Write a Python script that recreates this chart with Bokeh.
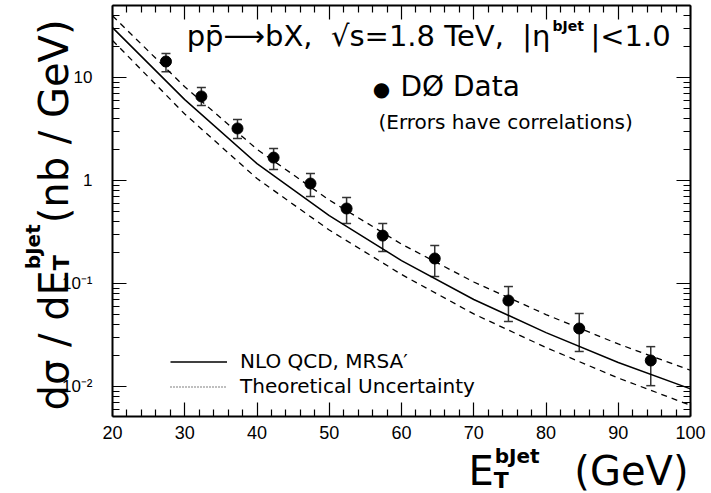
import math
from bokeh.plotting import figure
from bokeh.models import (Range1d, LogAxis, LinearAxis, FixedTicker, CustomJSTickFormatter,
                          CustomLabelingPolicy, Label, Legend, LegendItem, ColumnDataSource,
                          Whisker, TeeHead)
from bokeh.embed import file_html
from bokeh.resources import INLINE

# ---------------- data ----------------
et_data = [27.4, 32.3, 37.3, 42.3, 47.4, 52.4, 57.4, 64.6, 74.8, 84.6, 94.5]
xsec_data = [14.3, 6.55, 3.20, 1.67, 0.935, 0.535, 0.292, 0.175, 0.0684, 0.0366, 0.0179]
xsec_hi = [17.1, 8.0, 3.91, 2.05, 1.17, 0.684, 0.383, 0.234, 0.0935, 0.0512, 0.0244]
xsec_lo = [11.4, 5.35, 2.56, 1.28, 0.70, 0.383, 0.205, 0.117, 0.0428, 0.0219, 0.0102]

et_theory = [20, 30, 40, 50, 60, 70, 80, 90, 100]
nlo_central = [30.5, 6.1, 1.46, 0.457, 0.167, 0.070, 0.0334, 0.0171, 0.0095]
nlo_upper = [39.7, 8.13, 2.01, 0.646, 0.2415, 0.1035, 0.050, 0.0259, 0.0144]
nlo_lower = [22.9, 4.42, 1.045, 0.331, 0.1225, 0.0507, 0.0239, 0.0121, 0.00658]

x_lim = [20, 100]
y_lim = [0.00512, 50.0]
x_tick_values = [20, 30, 40, 50, 60, 70, 80, 90, 100]
y_tick_values = [0.01, 0.1, 1, 10]
y_tick_labels = ["10\u207b\u00b2", "10\u207b\u00b9", "1", "10"]

FONT = "DejaVu Sans"
TICKFONT = "Liberation Sans"
WIDTH, HEIGHT = 711, 493
# page pixels of the axis box
BOX_L, BOX_R, BOX_T, BOX_B = 112, 690, 5, 416

# approximate DejaVu Sans advance widths (em) for placing sub/superscripts
W = {' ': .318, '(': .390, ')': .390, '/': .337, 'd': .635, '\u03c3': .634, 'E': .632,
     'T': .611, 'b': .635, 'J': .295, 'e': .615, 't': .392, 'n': .634, 'G': .775,
     'V': .684}
WB = {'b': .716, 'J': .372, 'e': .678, 't': .478, 'T': .682}


def tw(s, size, bold=False):
    tab = WB if bold else W
    return sum(tab.get(c, W.get(c, 0.6)) for c in s) * size


# the frame fills the whole canvas; the axes are pinned at the box edges
xs = (x_lim[1] - x_lim[0]) / (BOX_R - BOX_L)
x_full = (x_lim[0] - BOX_L * xs, x_lim[1] + (WIDTH - BOX_R) * xs)
ly0, ly1 = math.log10(y_lim[0]), math.log10(y_lim[1])
ys_ = (ly1 - ly0) / (BOX_B - BOX_T)
y_full = (10 ** (ly0 - (HEIGHT - BOX_B) * ys_), 10 ** (ly1 + BOX_T * ys_))

p = figure(width=WIDTH, height=HEIGHT, x_range=Range1d(*x_full), y_range=Range1d(*y_full),
           y_axis_type="log", output_backend="svg", toolbar_location=None,
           min_border=0, min_border_left=0, min_border_right=0, min_border_top=0,
           min_border_bottom=0)
p.xgrid.visible = False
p.ygrid.visible = False
p.outline_line_color = None
p.background_fill_color = "white"
p.border_fill_color = "white"

x_ticker = FixedTicker(ticks=x_tick_values,
                       minor_ticks=[v for v in range(x_lim[0], x_lim[1] + 1, 2) if v % 10])
y_minor = [k * 10.0 ** e for e in range(-3, 2) for k in range(2, 10)]
y_ticker = FixedTicker(ticks=y_tick_values,
                       minor_ticks=[v for v in y_minor if y_lim[0] <= v <= y_lim[1]])
y_fmt = CustomJSTickFormatter(args=dict(vals=y_tick_values, labs=y_tick_labels), code="""
for (let i = 0; i < vals.length; i++) {
  if (Math.abs(tick - vals[i]) <= 1e-6 * vals[i]) { return labs[i]; }
}
return "";
""")


def style(ax, labels=True):
    ax.axis_line_color = "black"
    ax.axis_line_width = 2
    ax.major_tick_in = 14
    ax.major_tick_out = 0
    ax.minor_tick_in = 7
    ax.minor_tick_out = 0
    ax.major_tick_line_color = "black"
    ax.major_tick_line_width = 1.2
    ax.minor_tick_line_color = "black"
    ax.minor_tick_line_width = 1.2
    ax.major_label_text_font = TICKFONT
    ax.major_label_text_color = "black"
    if not labels:
        ax.major_label_text_font_size = "1px"
        ax.major_label_standoff = 0
        ax.major_label_policy = CustomLabelingPolicy(
            code="for (const i of indices) { indices.unset(i) }\nreturn indices")


xa = p.xaxis[0]
xa.ticker = x_ticker
xa.fixed_location = y_lim[0]
xa.bounds = tuple(x_lim)
style(xa)
xa.major_label_text_font_size = "18px"
xa.major_label_standoff = 9

ya = p.yaxis[0]
ya.ticker = y_ticker
ya.formatter = y_fmt
ya.fixed_location = x_lim[0]
ya.bounds = tuple(y_lim)
style(ya)
ya.major_label_text_font_size = "17px"
ya.major_label_standoff = 20

top_ax = LinearAxis(ticker=x_ticker, fixed_location=y_lim[1], bounds=tuple(x_lim))
style(top_ax, labels=False)
p.add_layout(top_ax, "above")
right_ax = LogAxis(ticker=y_ticker, fixed_location=x_lim[1], bounds=tuple(y_lim))
style(right_ax, labels=False)
p.add_layout(right_ax, "right")

# ---------------- theory curves ----------------
th = ColumnDataSource(dict(x=et_theory, c=nlo_central, u=nlo_upper, l=nlo_lower,
                           none=[float("nan")] * len(et_theory)))
r_c = p.line("x", "c", source=th, line_color="black", line_width=1.5)
p.line("x", "u", source=th, line_color="black", line_width=1.3, line_dash="6 5")
p.line("x", "l", source=th, line_color="black", line_width=1.3, line_dash="6 5")
r_dot = p.line("x", "none", source=th, line_color="black", line_width=1.2, line_dash="1 2")

# ---------------- data points ----------------
ds = ColumnDataSource(dict(x=et_data, y=xsec_data, hi=xsec_hi, lo=xsec_lo))
wh = Whisker(source=ds, base="x", upper="hi", lower="lo", line_color="#333333", line_width=1.5,
             upper_head=TeeHead(size=9, line_color="#333333", line_width=1.5),
             lower_head=TeeHead(size=9, line_color="#333333", line_width=1.5))
p.add_layout(wh)
p.scatter("x", "y", source=ds, size=11, color="black")

# ---------------- legend ----------------
leg = Legend(items=[LegendItem(label="NLO QCD, MRSA\u2032", renderers=[r_c]),
                    LegendItem(label="Theoretical Uncertainty", renderers=[r_dot])],
             location=(170, HEIGHT - 398.5), glyph_width=57, glyph_height=25, label_height=25,
             label_standoff=13, spacing=0, padding=0, margin=0,
             label_text_font=FONT, label_text_font_size="20px", label_text_color="black",
             label_text_baseline="bottom",
             border_line_alpha=0, background_fill_alpha=0)
p.add_layout(leg, "center")

# Bokeh sets horizontal alphabetic text about 0.4 em lower than asked; compensate
SHIFT = 0.4


# ---------------- texts (canvas pixel positions) ----------------
def lab(px, py, text, size, align="left", baseline="alphabetic", bold=False, angle=0.0):
    if angle == 0.0 and baseline == "alphabetic":
        py -= SHIFT * size
    p.add_layout(Label(x=px, y=HEIGHT - py, x_units="screen", y_units="screen", text=text,
                       text_font=FONT, text_font_size=f"{size}px", text_align=align,
                       text_baseline=baseline, angle=angle, text_color="black",
                       text_font_style="bold" if bold else "normal"))


NB = "\u00a0"
# title
lab(550, 47, "pp\u0304\u27f6bX," + NB * 2 + "\u221as=1.8 TeV," + NB * 2 + "|\u03b7", 29, align="right")
lab(552, 31, "bJet", 14, bold=True)
lab(590, 47, "|<1.0", 29)
# data legend
lab(381, 88, "\u25cf", 20, align="center", baseline="middle")
lab(400, 97, "D\u00d8 Data", 28)
lab(378, 129, "(Errors have correlations)", 20)

# x-axis title
XF = 40
xe = 468
lab(xe, 486, "E", XF)
lab(xe + tw("E", XF), 489, "T", 22, bold=True)
lab(xe + tw("E", XF) + 1, 463, "bJet", 20, bold=True)
lab(688, 486, "(GeV)", XF, align="right")

# y-axis title (rotated)
YF = 40
bx = 53
y0 = 410
part1 = "d\u03c3 / dE"
part2 = " (nb / GeV)"
ang = math.pi / 2
lab(bx, y0, part1, YF, angle=ang)
ys = y0 - tw(part1, YF)
lab(bx + 8, ys, "T", 22, bold=True, angle=ang)
lab(bx - 21, ys - 1, "bJet", 20, bold=True, angle=ang)
ys2 = ys - max(tw("bJet", 20, True), tw("T", 22, True)) - 2
lab(bx, ys2, part2, YF, angle=ang)

open("out.html", "w").write(file_html(p, INLINE))
